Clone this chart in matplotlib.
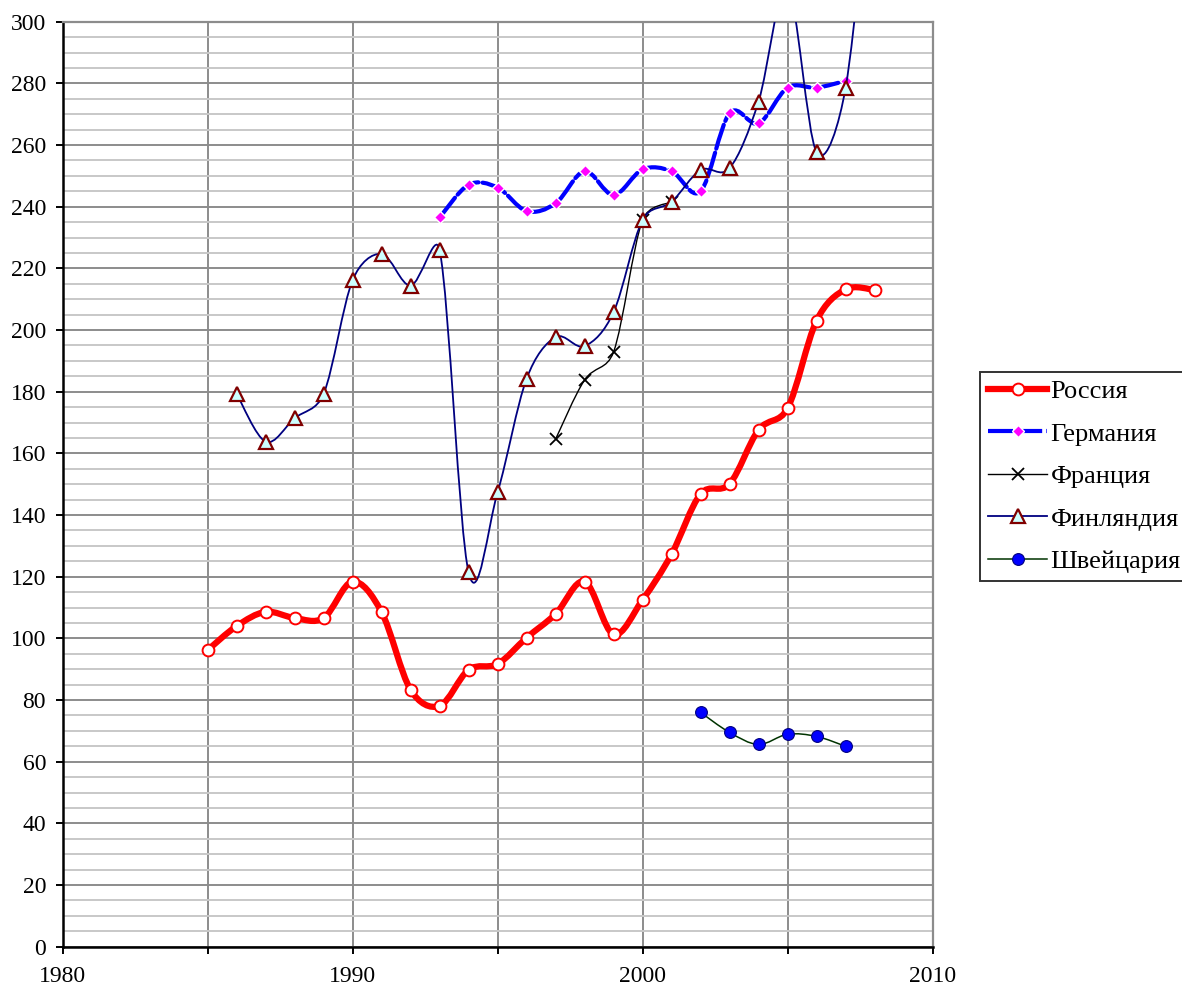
import matplotlib
matplotlib.use("Agg")
import matplotlib.pyplot as plt
from matplotlib.path import Path
from matplotlib.patches import PathPatch
from matplotlib.lines import Line2D
from matplotlib.ticker import MultipleLocator, FuncFormatter
import numpy as np

plt.rcParams['font.family'] = ['Liberation Serif', 'DejaVu Serif']

# ---- data ----
russia_years = [1985, 1986, 1987, 1988, 1989, 1990, 1991, 1992, 1993, 1994, 1995, 1996,
                1997, 1998, 1999, 2000, 2001, 2002, 2003, 2004, 2005, 2006, 2007, 2008]
russia_vals = [96.2, 104.0, 108.6, 106.6, 106.6, 118.4, 108.5, 83.3, 78.1, 89.8, 91.7, 100.2,
               107.9, 118.4, 101.3, 112.5, 127.3, 146.8, 150.1, 167.6, 174.6, 203.0, 213.2, 213.0]

germany_years = [1993, 1994, 1995, 1996, 1997, 1998, 1999, 2000, 2001, 2002, 2003, 2004,
                 2005, 2006, 2007]
germany_vals = [236.5, 247.1, 246.2, 238.6, 241.1, 251.5, 243.8, 252.1, 251.5, 245.0, 270.3,
                267.0, 278.6, 278.6, 280.8]

france_years = [1997, 1998, 1999, 2000, 2001]
france_vals = [164.6, 183.8, 192.9, 235.7, 241.6]

finland_years = [1986, 1987, 1988, 1989, 1990, 1991, 1992, 1993, 1994, 1995, 1996, 1997,
                 1998, 1999, 2000, 2001, 2002, 2003, 2004, 2005, 2006, 2007, 2008]
finland_vals = [179.3, 163.8, 171.4, 179.3, 216.2, 224.7, 214.4, 226.0, 121.4, 147.4, 184.2,
                197.7, 194.8, 205.8, 235.7, 241.6, 251.9, 252.5, 274.1, 311.0, 257.7, 278.4, 365.0]

swiss_years = [2002, 2003, 2004, 2005, 2006, 2007]
swiss_vals = [76.0, 69.5, 65.6, 68.9, 68.2, 65.0]

labels = ["Россия", "Германия", "Франция", "Финляндия", "Швейцария"]
x_ticks = [1980, 1990, 2000, 2010]


def smooth_path(ax, xs, ys):
    """Excel-like smoothed line: cubic Bezier segments through the data points.
    Control arms are 1/6 of the neighbour chord, capped at half the segment length
    (measured in screen space)."""
    P = np.column_stack([xs, ys]).astype(float)
    S = ax.transData.transform(P)
    n = len(P)
    verts = [P[0]]
    codes = [Path.MOVETO]
    for i in range(n - 1):
        a = i - 1 if i > 0 else i
        b = i + 2 if i + 2 < n else i + 1
        seg = np.hypot(*(S[i + 1] - S[i]))
        half = seg / 2.0
        d1 = (P[i + 1] - P[a]) / 6.0
        l1 = np.hypot(*((S[i + 1] - S[a]) / 6.0))
        if l1 > half and l1 > 0:
            d1 = d1 * half / l1
        d2 = (P[b] - P[i]) / 6.0
        l2 = np.hypot(*((S[b] - S[i]) / 6.0))
        if l2 > half and l2 > 0:
            d2 = d2 * half / l2
        verts += [P[i] + d1, P[i + 1] - d2, P[i + 1]]
        codes += [Path.CURVE4] * 3
    return Path(verts, codes)


fig = plt.figure(figsize=(11.82, 9.88), dpi=100)
ax = fig.add_axes([62.7 / 1182, 1 - 946.7 / 988, (932.5 - 62.7) / 1182, (946.7 - 21.7) / 988])
ax.set_xlim(1980, 2010)
ax.set_ylim(0, 300)

series = [
    dict(x=russia_years, y=russia_vals, color='#ff0000', lw=4.5, ls='-',
         marker='o', ms=8.5, mfc='white', mec='#ff0000', mew=1.4),
    dict(x=germany_years, y=germany_vals, color='#0000ff', lw=3.0, ls=(0, (6, 1)),
         marker='D', ms=6.5, mfc='#ff00ff', mec='white', mew=1.0),
    dict(x=france_years, y=france_vals, color='#000000', lw=1.0, ls='-',
         marker='x', ms=9, mfc='none', mec='#000000', mew=1.3),
    dict(x=finland_years, y=finland_vals, color='#000080', lw=1.3, ls='-',
         marker='^', ms=10, mfc='#ccffff', mec='#800000', mew=1.6),
    dict(x=swiss_years, y=swiss_vals, color='#003300', lw=1.1, ls='-',
         marker='o', ms=8.5, mfc='#0000ff', mec='#000080', mew=0.8),
]

handles = []
for k, s in enumerate(series):
    patch = PathPatch(smooth_path(ax, s['x'], s['y']), fill=False, edgecolor=s['color'],
                      lw=s['lw'], linestyle=s['ls'], zorder=3 + 2 * k, capstyle='round')
    ax.add_patch(patch)
    ax.plot(s['x'], s['y'], linestyle='none', marker=s['marker'], ms=s['ms'],
            mfc=s['mfc'], mec=s['mec'], mew=s['mew'], zorder=4 + 2 * k, clip_on=True)
    handles.append(Line2D([0], [0], color=s['color'], lw=s['lw'], ls=s['ls'],
                          marker=s['marker'], ms=s['ms'], mfc=s['mfc'], mec=s['mec'],
                          mew=s['mew']))

ax.xaxis.set_major_locator(MultipleLocator(5))
ax.xaxis.set_major_formatter(FuncFormatter(
    lambda v, p: str(int(round(v))) if int(round(v)) in x_ticks else ''))
ax.yaxis.set_major_locator(MultipleLocator(20))
ax.yaxis.set_minor_locator(MultipleLocator(5))

ax.grid(True, which='major', axis='both', color='#8c8c8c', lw=1.4, zorder=0)
ax.grid(True, which='minor', axis='y', color='#c8c8c8', lw=1.4, zorder=0)
ax.set_axisbelow(True)

ax.tick_params(axis='both', which='major', direction='out', length=5, width=1.4,
               labelsize=17, color='black')
ax.tick_params(axis='y', which='major', pad=7)
ax.tick_params(axis='x', which='major', pad=9)
ax.tick_params(axis='y', which='minor', length=0)

for side in ['left', 'bottom']:
    ax.spines[side].set_color('black')
    ax.spines[side].set_linewidth(1.8)
for side in ['top', 'right']:
    ax.spines[side].set_color('#8c8c8c')
    ax.spines[side].set_linewidth(1.6)

leg = fig.legend(handles, labels, loc='upper left',
                 bbox_to_anchor=(980 / 1182, 1 - 371.7 / 988),
                 fontsize=19, frameon=True, fancybox=False, shadow=False,
                 handlelength=2.25, handletextpad=0.12, labelspacing=0.72,
                 borderpad=0.3, borderaxespad=0)
leg.get_frame().set_edgecolor('black')
leg.get_frame().set_linewidth(1.4)

fig.savefig('out.png', dpi=100)
